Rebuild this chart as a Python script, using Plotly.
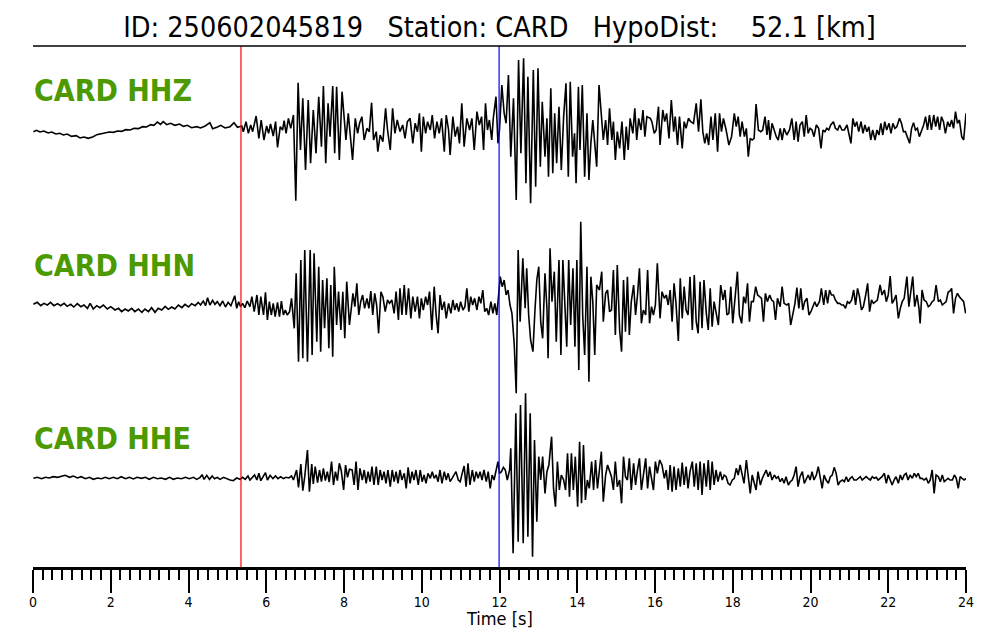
import plotly.graph_objects as go

# ---------------- data ----------------
TITLE = "ID: 250602045819   Station: CARD   HypoDist:    52.1 [km]"
STATION = "CARD"
CHANNELS = ["HHZ", "HHN", "HHE"]
P_PICK = 5.35   # s (red)
S_PICK = 11.99  # s (blue)
X_TICKS = [0, 2, 4, 6, 8, 10, 12, 14, 16, 18, 20, 22, 24]
X_LABEL = "Time [s]"

# (time [s], relative amplitude)
HHZ = [(0.01,-5),(0.09,-1),(0.18,-6),(0.28,-3),(0.39,-9),(0.48,-6),(0.59,-12),(0.69,-10),(0.78,-15),(0.88,-12),(0.99,-19),(1.11,-17),(1.21,-24),(1.31,-21),(1.42,-25),(1.55,-20),(1.64,-14),(1.74,-12),(1.85,-9),(1.96,-6),(2.07,-7),(2.17,-3),(2.28,-4),(2.39,1),(2.50,0),(2.60,5),(2.71,4),(2.82,10),(2.92,9),(3.03,16),(3.11,14),(3.20,24),(3.28,17),(3.35,25),(3.44,16),(3.54,20),(3.65,14),(3.77,18),(3.87,11),(3.97,14),(4.08,7),(4.21,10),(4.31,6),(4.43,12),(4.55,22),(4.62,4),(4.73,8),(4.83,14),(4.94,6),(5.07,10),(5.17,22),(5.26,8),(5.37,12),
(5.41,-5),(5.48,25),(5.54,-10),(5.60,15),(5.65,-5),(5.74,42),(5.81,-25),(5.87,30),(5.94,-30),(6.01,12),(6.06,-10),(6.11,18),(6.18,-18),(6.24,25),(6.29,-52),(6.36,10),(6.42,0),(6.46,28),(6.51,-10),(6.57,35),(6.63,5),(6.70,45),(6.76,-212),(6.82,142),(6.88,-60),(6.94,95),(7.01,-120),(7.08,90),(7.14,-100),(7.21,60),(7.28,-70),(7.35,100),(7.42,-50),(7.47,132),(7.53,-100),(7.59,80),(7.64,-20),(7.71,132),(7.76,-70),(7.81,130),(7.88,-90),(7.95,115),
(8.05,-30),(8.11,50),(8.16,-20),(8.22,-90),(8.29,35),(8.35,-10),(8.40,20),(8.46,40),(8.52,-30),(8.59,5),(8.65,-5),(8.71,82),(8.76,-30),(8.83,-5),(8.87,-65),(8.93,-15),(9.00,-35),(9.07,65),(9.12,0),(9.19,-60),(9.25,65),(9.31,-10),(9.37,30),(9.44,-5),(9.51,15),(9.57,-25),(9.63,25),(9.70,35),(9.77,-40),(9.83,20),(9.89,-5),(9.94,50),(9.99,-65),(10.04,40),(10.10,-10),(10.15,25),(10.22,0),(10.27,45),(10.33,-25),(10.39,25),(10.45,-10),(10.51,35),(10.58,-65),(10.63,45),(10.69,0),(10.73,-75),(10.80,40),(10.86,-20),(10.92,10),(10.97,-40),(11.03,80),(11.09,-50),(11.16,35),(11.23,0),(11.29,35),(11.35,-60),(11.42,55),(11.48,15),(11.54,40),(11.59,-60),(11.64,80),(11.69,0),(11.74,30),(11.80,-30),(11.84,35),(11.91,100),(11.96,-40),(12.00,0),(12.06,135),(12.12,50),(12.17,20),(12.23,165),(12.29,-80),(12.36,95),(12.43,-210),(12.49,210),(12.55,-70),(12.62,215),(12.68,-160),(12.73,160),(12.80,-220),(12.87,180),(12.93,-170),(12.99,185),(13.05,-110),(13.10,85),(13.17,-80),(13.22,35),(13.26,-140),(13.32,125),(13.37,-130),(13.42,50),(13.47,-100),(13.53,70),(13.59,-120),(13.65,40),(13.71,140),(13.77,-140),(13.82,145),(13.88,-80),(13.93,-10),(13.97,-160),(14.03,130),(14.07,-60),(14.13,135),(14.19,-140),(14.25,50),(14.30,-150),(14.35,-40),(14.40,30),(14.45,-40),(14.50,-110),(14.56,135),(14.62,50),(14.67,-30),(14.73,30),(14.78,-45),(14.83,65),(14.89,-30),(14.93,25),(14.98,-90),(15.03,-5),(15.09,-55),(15.15,25),(15.21,-90),(15.26,10),(15.31,-60),(15.36,35),(15.43,-10),(15.48,65),(15.53,-30),(15.58,35),(15.64,0),(15.69,60),(15.74,-20),(15.79,40),(15.88,35),(15.92,25),(15.98,-10),(16.03,0),(16.09,70),(16.13,-45),
(16.20,60),(16.25,25),(16.30,50),(16.36,-25),(16.42,90),(16.48,-5),(16.52,40),(16.58,-45),(16.63,40),(16.70,-55),(16.75,25),(16.80,5),(16.86,35),(16.92,25),(16.99,20),(17.06,80),(17.12,-5),(17.18,92),(17.23,-5),(17.28,-40),(17.33,-10),(17.38,-45),(17.44,40),(17.49,-30),(17.55,50),(17.61,-65),(17.66,50),(17.71,-5),(17.76,35),(17.83,0),(17.90,-45),(17.97,-20),(18.04,50),(18.09,10),(18.14,40),(18.19,-20),(18.24,25),(18.30,-20),(18.35,5),(18.40,-80),(18.45,-25),(18.50,-30),(18.55,-25),(18.60,78),(18.66,0),(18.72,-5),(18.77,0),(18.83,40),(18.88,-15),(18.92,30),(18.96,-30),(19.01,20),(19.07,-5),(19.12,-20),(19.17,-30),(19.22,5),(19.27,-30),(19.32,5),(19.39,-15),(19.46,0),(19.52,35),(19.58,-30),(19.63,25),(19.68,-35),(19.73,15),(19.79,25),(19.84,-20),(19.89,45),(19.94,-10),(19.99,5),(20.04,0),(20.09,-20),(20.15,15),(20.21,5),(20.27,-55),(20.32,0),(20.37,-5),(20.42,5),(20.47,0),(20.52,15),(20.59,25),(20.64,5),(20.70,0),(20.75,15),(20.81,0),(20.87,0),(20.94,15),(20.99,-10),(21.04,-40),(21.09,35),(21.14,10),(21.19,25),(21.24,-5),(21.30,25),(21.35,-10),(21.40,15),(21.45,-5),(21.50,10),(21.55,-30),(21.60,0),(21.66,-30),(21.71,0),(21.76,-15),(21.81,20),(21.86,-15),(21.91,25),(21.96,0),(22.02,20),(22.07,-10),(22.12,20),(22.17,5),(22.22,10),(22.29,35),(22.34,20),(22.39,-5),(22.44,-5),(22.50,-25),(22.55,-40),(22.60,5),(22.65,22),(22.70,0),(22.75,5),(22.80,-20),(22.86,0),(22.91,15),(22.96,40),(23.01,0),(23.06,45),(23.11,0),(23.17,45),(23.22,10),(23.27,40),(23.32,0),(23.37,40),(23.42,25),(23.47,-10),(23.53,25),(23.58,10),(23.63,30),(23.68,5),(23.73,55),(23.78,20),(23.83,30),(23.89,-20),(23.94,-30),(24.00,50)]

HHN = [(0.01,2),(0.11,8),(0.20,-2),(0.28,5),(0.37,0),(0.45,8),(0.54,-2),(0.63,4),(0.71,-2),(0.80,5),(0.88,-4),(0.97,2),(1.05,-6),(1.14,4),(1.23,-5),(1.31,0),(1.40,-10),(1.47,5),(1.55,-12),(1.64,-2),(1.72,-8),(1.81,0),(1.91,-12),(2.00,-5),(2.11,-15),(2.20,-10),(2.28,-20),(2.37,-12),(2.45,-18),(2.54,-10),(2.62,-20),(2.71,-12),(2.80,-22),(2.88,-12),(2.97,-20),(3.05,-8),(3.14,-22),(3.22,-10),(3.31,-15),(3.40,-4),(3.48,-13),(3.57,-6),(3.65,-12),(3.74,0),(3.83,-8),(3.91,2),(4.00,-6),(4.08,4),(4.17,-2),(4.25,8),(4.31,0),(4.38,12),(4.44,-2),(4.49,22),(4.55,0),(4.62,14),(4.68,2),(4.74,10),(4.81,-2),(4.88,12),(4.95,-6),(5.02,8),(5.09,-2),(5.14,15),(5.19,28),(5.24,-10),(5.29,10),(5.34,-5),
(5.39,5),(5.45,-8),(5.51,12),(5.58,-5),(5.63,25),(5.69,-20),(5.76,30),(5.81,-30),(5.86,25),(5.93,-30),(5.98,38),(6.03,-45),(6.08,10),(6.13,-30),(6.18,5),(6.23,-35),(6.29,8),(6.34,-35),(6.39,12),(6.44,-30),(6.49,-15),(6.54,-30),(6.60,-20),(6.65,20),(6.72,-70),(6.77,95),(6.83,-170),(6.89,135),(6.94,-160),(6.99,165),(7.06,-170),(7.13,165),(7.18,-150),(7.23,155),(7.30,-110),(7.35,115),(7.40,-140),(7.45,75),(7.50,-70),(7.56,80),(7.61,-130),(7.66,60),(7.71,-155),(7.75,115),(7.81,-60),(7.86,40),(7.92,-75),(7.97,40),(8.02,-100),(8.07,70),(8.14,-60),
(8.23,35),(8.28,-5),(8.33,65),(8.38,-30),(8.43,10),(8.48,30),(8.53,-10),(8.59,20),(8.64,-10),(8.69,42),(8.74,-30),(8.79,35),(8.84,0),(8.89,-85),(8.95,40),(9.00,25),(9.06,-20),(9.12,15),(9.17,5),(9.23,15),(9.29,-25),(9.34,40),(9.40,-45),(9.44,50),(9.49,-30),(9.55,60),(9.60,-30),(9.66,50),(9.72,-40),(9.77,25),(9.83,-20),(9.89,25),(9.94,-40),(9.99,20),(10.04,-15),(10.10,25),(10.15,0),(10.20,40),(10.26,-75),(10.32,55),(10.37,-30),(10.42,-85),(10.47,30),(10.52,-15),(10.58,10),(10.63,-40),(10.69,5),(10.75,-25),(10.80,15),(10.85,-15),(10.90,5),(10.95,-20),(11.00,10),(11.06,-15),(11.11,-5),(11.16,50),(11.21,-20),(11.26,25),(11.31,0),(11.36,20),(11.42,-15),(11.47,25),(11.52,5),(11.57,45),(11.62,-20),(11.67,-10),(11.72,-30),(11.78,10),(11.83,-25),(11.88,5),(11.93,-30),(11.97,25),(12.02,85),(12.07,55),(12.12,75),(12.17,30),(12.22,45),(12.27,0),(12.32,-25),(12.38,-120),(12.43,-265),(12.48,165),(12.53,-50),(12.60,140),(12.66,-10),(12.70,110),(12.75,-30),(12.80,-105),(12.86,-140),(12.91,-20),(12.96,75),(13.01,115),(13.06,-50),(13.11,-100),(13.17,95),(13.22,-10),(13.25,-160),(13.30,170),(13.35,10),(13.41,100),(13.46,-110),(13.53,135),(13.58,-150),(13.63,135),(13.68,-20),(13.73,-125),(13.78,135),(13.83,-60),(13.89,110),(13.94,-125),(13.99,135),(14.04,-195),(14.09,250),(14.14,-30),(14.19,-150),(14.25,115),(14.30,-230),(14.35,85),(14.40,10),(14.45,-150),(14.50,60),(14.57,45),(14.63,100),(14.67,-50),(14.73,35),(14.78,45),(14.83,-20),(14.88,-15),(14.93,105),(14.98,-90),(15.03,120),(15.09,-75),(15.14,-140),(15.19,75),(15.24,-80),(15.29,85),(15.34,-90),(15.39,10),(15.45,60),(15.50,-30),(15.55,30),(15.60,110),(15.65,-55),(15.70,-15),(15.76,-30),(15.81,105),(15.86,-55),(15.91,-5),(15.96,-30),(16.01,0),(16.06,125),(16.13,-40),
(16.18,40),(16.24,20),(16.29,30),(16.34,0),(16.39,45),(16.44,-50),(16.49,65),(16.54,5),(16.60,-108),(16.65,80),(16.70,-40),(16.75,55),(16.80,-15),(16.85,-30),(16.90,85),(16.96,-75),(17.01,90),(17.06,-50),(17.11,-85),(17.16,70),(17.21,-70),(17.26,75),(17.32,-25),(17.37,-75),(17.42,50),(17.47,-65),(17.52,10),(17.57,-20),(17.63,-60),(17.69,60),(17.75,15),(17.80,45),(17.85,-30),(17.90,-25),(17.95,55),(18.00,-55),(18.07,30),(18.12,100),(18.17,-30),(18.23,-55),(18.28,25),(18.33,5),(18.38,65),(18.43,-50),(18.48,10),(18.53,10),(18.59,55),(18.64,30),(18.69,25),(18.74,20),(18.79,-50),(18.84,35),(18.89,10),(18.95,30),(19.00,15),(19.05,10),(19.10,-45),(19.15,20),(19.22,-5),(19.27,55),(19.32,5),(19.39,0),(19.44,5),(19.49,-60),(19.55,-25),(19.60,5),(19.65,52),(19.70,-10),(19.75,50),(19.80,-15),(19.85,10),(19.91,20),(19.96,-30),(20.01,-20),(20.06,-5),(20.11,10),(20.16,-5),(20.23,10),(20.28,50),(20.34,0),(20.39,45),(20.44,5),(20.49,45),(20.54,30),(20.59,30),(20.64,15),(20.70,5),(20.75,5),(20.80,0),(20.85,0),(20.90,-10),(20.95,10),(21.00,5),(21.06,15),(21.11,45),(21.16,0),(21.21,50),(21.26,25),(21.31,-15),(21.36,-5),(21.42,30),(21.47,65),(21.52,-20),(21.57,15),(21.62,5),(21.67,10),(21.72,15),(21.79,60),(21.84,30),(21.90,45),(21.95,10),(22.00,30),(22.05,87),(22.10,5),(22.15,15),(22.20,30),(22.26,-40),(22.31,-10),(22.36,10),(22.41,20),(22.48,85),(22.53,-5),(22.58,45),(22.63,85),(22.68,-5),(22.74,30),(22.79,-10),(22.82,-55),(22.87,45),(22.92,15),(22.98,10),(23.03,-5),(23.08,0),(23.13,10),(23.18,15),(23.23,60),(23.29,10),(23.34,15),(23.39,0),(23.44,5),(23.49,10),(23.54,38),(23.59,42),(23.63,50),(23.68,-25),(23.73,20),(23.78,35),(23.83,25),(23.89,15),(23.94,10),(23.99,-25)]

HHE = [(0.01,-1),(0.11,2),(0.22,-2),(0.32,2),(0.42,0),(0.52,4),(0.63,2),(0.73,6),(0.83,8),(0.94,2),(1.04,6),(1.14,0),(1.24,4),(1.35,-2),(1.45,2),(1.55,-4),(1.66,0),(1.76,-2),(1.86,2),(1.96,-2),(2.07,2),(2.17,-2),(2.27,4),(2.38,-2),(2.48,2),(2.58,-3),(2.68,2),(2.79,-1),(2.89,2),(2.99,-4),(3.10,2),(3.20,-2),(3.30,0),(3.41,-4),(3.51,2),(3.61,-4),(3.71,0),(3.82,-2),(3.92,2),(4.02,-2),(4.13,2),(4.21,-4),(4.30,2),(4.35,10),(4.40,-4),(4.47,8),(4.54,-4),(4.61,6),(4.67,-2),(4.74,2),(4.81,-4),(4.90,2),(4.98,-2),(5.07,-6),(5.15,-8),(5.24,0),(5.33,-4),
(5.39,2),(5.46,-4),(5.53,6),(5.58,-6),(5.65,4),(5.70,9),(5.76,-6),(5.81,14),(5.86,-8),(5.93,6),(5.98,16),(6.03,-6),(6.10,8),(6.17,-2),(6.24,6),(6.30,-2),(6.37,4),(6.44,-2),(6.51,2),(6.58,0),(6.65,6),(6.70,-6),(6.75,14),(6.78,24),(6.83,-28),(6.89,42),(6.94,-38),(6.99,4),(7.06,84),(7.11,-41),(7.17,42),(7.21,-18),(7.26,34),(7.32,-14),(7.37,24),(7.42,-11),(7.47,29),(7.52,-8),(7.57,19),(7.62,-12),(7.68,49),(7.73,-21),(7.78,19),(7.83,-8),(7.88,44),(7.93,22),(7.99,-36),(8.04,39),(8.09,2),(8.14,26),
(8.21,24),(8.26,-21),(8.31,49),(8.36,-36),(8.41,29),(8.47,-6),(8.52,24),(8.57,-16),(8.62,19),(8.67,-11),(8.72,34),(8.77,-21),(8.83,34),(8.88,-21),(8.93,24),(8.98,-6),(9.03,19),(9.08,-16),(9.13,24),(9.19,-26),(9.24,24),(9.29,-11),(9.34,19),(9.39,-16),(9.44,24),(9.49,-6),(9.55,14),(9.60,-31),(9.65,32),(9.70,-16),(9.75,19),(9.80,-6),(9.85,24),(9.91,-21),(9.96,24),(10.01,-11),(10.06,9),(10.11,-16),(10.16,14),(10.22,-1),(10.27,19),(10.32,-1),(10.37,9),(10.42,-11),(10.47,24),(10.52,-16),(10.58,19),(10.63,-6),(10.68,14),(10.73,-11),(10.78,-1),(10.83,9),(10.88,19),(10.94,-6),(10.99,-11),(11.04,14),(11.09,36),(11.14,-26),(11.19,44),(11.24,-21),(11.30,24),(11.35,-11),(11.40,19),(11.45,-1),(11.50,19),(11.55,-6),(11.60,24),(11.66,-11),(11.71,19),(11.76,-31),(11.81,9),(11.86,-6),(11.91,24),(11.96,49),(12.00,14),(12.05,19),(12.10,32),(12.15,24),(12.20,-6),(12.26,24),(12.29,89),(12.35,-226),(12.42,194),(12.48,-191),(12.54,219),(12.61,-196),(12.67,254),(12.73,-176),(12.79,194),(12.85,-236),(12.90,114),(12.96,-131),(13.01,64),(13.06,-6),(13.11,64),(13.17,-46),(13.22,19),(13.27,39),(13.34,124),(13.39,-31),(13.44,-86),(13.49,49),(13.54,-36),(13.59,9),(13.65,-6),(13.70,-36),(13.75,74),(13.80,-56),(13.85,74),(13.90,-36),(13.95,64),(14.01,-86),(14.06,109),(14.11,-76),(14.16,99),(14.21,-66),(14.26,-6),(14.31,-31),(14.37,49),(14.42,-36),(14.47,54),(14.52,-31),(14.57,24),(14.62,79),(14.67,-71),(14.73,9),(14.78,39),(14.83,19),(14.88,4),(14.93,-36),(14.98,49),(15.03,-26),(15.09,-6),(15.14,-76),(15.19,64),(15.24,4),(15.29,-6),(15.34,59),(15.39,-36),(15.45,44),(15.50,-21),(15.55,24),(15.60,59),(15.65,-36),(15.70,4),(15.76,59),(15.81,-31),(15.86,34),(15.91,-1),(15.96,-36),(16.01,49),(16.06,14),(16.12,54),
(16.18,39),(16.24,-1),(16.29,24),(16.34,-36),(16.39,39),(16.44,-41),(16.49,34),(16.54,-36),(16.60,29),(16.65,-26),(16.70,46),(16.75,-21),(16.80,34),(16.85,-31),(16.90,19),(16.96,49),(17.01,-26),(17.06,44),(17.11,-36),(17.16,49),(17.21,-51),(17.26,44),(17.32,-26),(17.37,54),(17.42,-36),(17.47,49),(17.52,-21),(17.57,24),(17.62,-11),(17.68,19),(17.73,-6),(17.78,9),(17.83,4),(17.88,-16),(17.93,-21),(17.99,-6),(18.04,-1),(18.09,29),(18.14,9),(18.19,39),(18.24,9),(18.29,-16),(18.35,54),(18.40,-1),(18.45,-46),(18.50,9),(18.55,-16),(18.60,-36),(18.65,19),(18.71,-21),(18.76,-1),(18.81,14),(18.86,24),(18.91,4),(18.96,19),(19.01,-6),(19.07,9),(19.12,-1),(19.17,4),(19.22,-11),(19.27,-1),(19.32,-16),(19.37,4),(19.43,-21),(19.48,-11),(19.53,-6),(19.58,9),(19.63,34),(19.68,-26),(19.73,4),(19.79,19),(19.84,-16),(19.89,-1),(19.94,9),(19.99,-6),(20.04,19),(20.09,-6),(20.15,9),(20.20,34),(20.25,-6),(20.30,-31),(20.35,9),(20.40,-6),(20.46,-16),(20.51,4),(20.56,9),(20.61,32),(20.66,14),(20.71,-21),(20.76,-11),(20.82,-6),(20.87,-11),(20.92,4),(20.97,-11),(21.02,-1),(21.07,4),(21.12,-6),(21.18,-6),(21.23,-1),(21.28,4),(21.33,-6),(21.38,-1),(21.43,4),(21.48,-1),(21.54,-6),(21.59,4),(21.64,-1),(21.69,2),(21.74,-6),(21.79,-1),(21.84,4),(21.90,14),(21.95,-16),(22.00,9),(22.05,-6),(22.10,-21),(22.15,-6),(22.20,4),(22.26,-16),(22.31,9),(22.36,-6),(22.41,9),(22.46,14),(22.51,-6),(22.56,9),(22.62,-1),(22.67,14),(22.72,4),(22.77,14),(22.82,-1),(22.87,-1),(22.92,-6),(22.98,-1),(23.03,-16),(23.08,-6),(23.13,24),(23.18,-46),(23.23,9),(23.29,4),(23.34,-11),(23.39,9),(23.44,-11),(23.49,-6),(23.54,-1),(23.59,-6),(23.65,-6),(23.70,9),(23.75,-1),(23.80,-31),(23.85,4),(23.90,-1),(23.95,-6),(24.00,-1)]

# ---------------- figure ----------------
TRACES = {"HHZ": HHZ, "HHN": HHN, "HHE": HHE}
OFFSETS = {"HHZ": 437, "HHN": 262, "HHE": 89}   # vertical stacking (axis units)
AMP_SCALE = 1.0 / 3.0
FONT = "DejaVu Sans Condensed, DejaVu Sans, sans-serif"
GREEN = "#4C9A00"

fig = go.Figure()
for ch in CHANNELS:
    pts = TRACES[ch]
    t = [p[0] for p in pts]
    y = [OFFSETS[ch] + p[1] * AMP_SCALE for p in pts]
    fig.add_trace(go.Scatter(x=t, y=y, mode="lines",
                             line=dict(color="black", width=1.6),
                             showlegend=False, hoverinfo="skip"))
    fig.add_annotation(x=0, xref="x", y=OFFSETS[ch] + 40, yref="y",
                       text=f"<b>{STATION} {ch}</b>", showarrow=False,
                       xanchor="left", yanchor="middle", borderpad=0,
                       font=dict(family=FONT, size=30, color=GREEN))

# pick lines
fig.add_shape(type="line", xref="x", yref="paper", x0=P_PICK, x1=P_PICK, y0=0, y1=1,
              line=dict(color="red", width=1.2))
fig.add_shape(type="line", xref="x", yref="paper", x0=S_PICK, x1=S_PICK, y0=0, y1=1,
              line=dict(color="blue", width=1.2))
# top rule
fig.add_shape(type="line", xref="x", yref="paper", x0=0, x1=24, y0=1, y1=1,
              line=dict(color="black", width=1.5))

# x-axis title as annotation (placed close to the tick labels)
fig.add_annotation(x=0.5, xref="paper", y=-51 / 521, yref="paper",
                   text=X_LABEL, showarrow=False, xanchor="center", yanchor="middle",
                   font=dict(family=FONT, size=18, color="black"))

# page body has an 8 px margin, so the figure is shifted by 8 px: compensate
fig.update_layout(
    width=1000, height=640,
    margin=dict(l=25, r=42, t=38, b=81),
    paper_bgcolor="white", plot_bgcolor="white",
    title=dict(text=TITLE.replace(" ", "\u00a0"), x=0.5, xref="paper",
               y=1 - 19 / 640, yref="container", xanchor="center", yanchor="middle",
               font=dict(family=FONT, size=28.5, color="black")),
    xaxis=dict(range=[0, 24], showgrid=False, zeroline=False,
               showline=True, linecolor="black", linewidth=2.5,
               ticks="outside", ticklen=23, tickwidth=2.3, tickcolor="black",
               tickvals=X_TICKS, ticktext=[str(v) for v in X_TICKS],
               ticklabelstandoff=-3,
               tickfont=dict(family=FONT, size=14, color="black"),
               minor=dict(ticks="outside", ticklen=10, tickwidth=2.1,
                          tickcolor="black", dtick=0.25, tick0=0, showgrid=False)),
    yaxis=dict(range=[0, 521], visible=False, showgrid=False, zeroline=False),
)

fig.write_html("out.html")
